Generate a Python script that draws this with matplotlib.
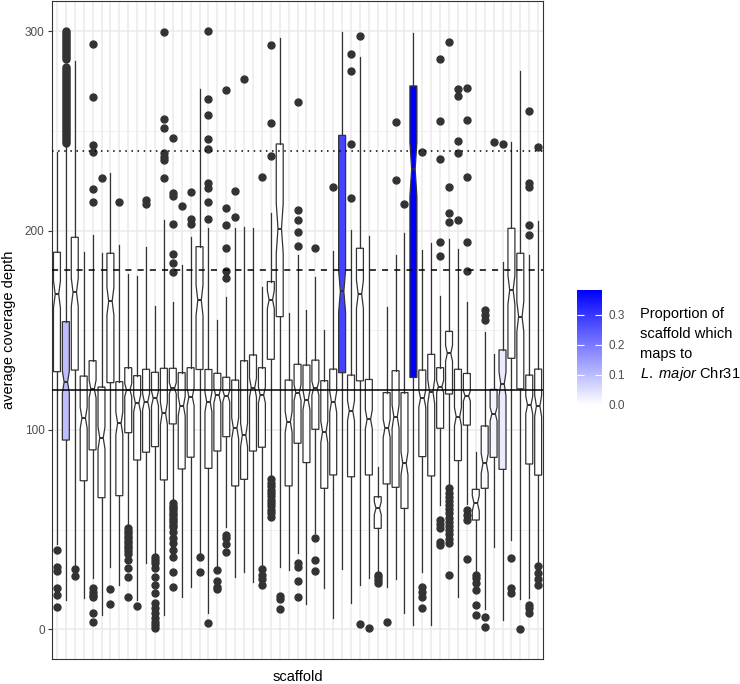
import numpy as np
import matplotlib
matplotlib.use('Agg')
import matplotlib.pyplot as plt
from matplotlib.colors import LinearSegmentedColormap, Normalize
from matplotlib.cm import ScalarMappable

plt.rcParams['font.family'] = ['Liberation Sans', 'DejaVu Sans']
plt.rcParams['mathtext.fontset'] = 'custom'
plt.rcParams['mathtext.it'] = 'Liberation Sans:italic'
plt.rcParams['mathtext.rm'] = 'Liberation Sans'

# box statistics per scaffold
q3s = [189.1, 154.3, 196.6, 127.0, 134.7, 121.5, 188.6, 124.2, 131.2, 127.2,
       130.4, 128.9, 130.9, 130.9, 128.7, 131.2, 191.9, 130.3, 128.4, 126.4,
       125.0, 134.7, 137.6, 131.2, 174.4, 243.4, 125.0, 132.9, 132.5, 135.0,
       124.7, 130.5, 247.7, 127.5, 191.1, 125.3, 66.5, 118.7, 129.7, 118.7,
       272.5, 130.0, 137.9, 131.2, 149.4, 130.4, 128.3, 70.2, 102.0, 120.3,
       140.1, 201.1, 188.6, 127.5, 130.5]
medians = [168.0, 124.0, 169.0, 106.0, 120.5, 96.0, 164.5, 103.3, 120.0, 113.3,
           114.1, 115.8, 108.3, 120.9, 112.0, 116.6, 165.0, 114.0, 117.3, 117.0,
           100.8, 97.4, 121.2, 117.5, 165.3, 201.0, 104.0, 118.7, 115.0, 120.9,
           99.0, 114.1, 169.5, 109.6, 168.0, 105.3, 60.7, 100.8, 106.6, 83.2,
           230.7, 115.8, 119.2, 121.7, 138.4, 106.6, 117.0, 63.2, 83.2, 108.0,
           123.0, 170.2, 156.8, 112.5, 112.0]
q1s = [129.2, 94.9, 130.0, 74.5, 90.0, 66.0, 123.7, 67.0, 98.6, 84.9,
       88.8, 91.6, 74.9, 103.0, 80.4, 86.3, 130.3, 80.7, 89.4, 96.6,
       71.9, 75.2, 89.4, 91.3, 135.4, 156.8, 71.9, 93.3, 83.6, 100.3,
       70.7, 77.4, 128.7, 76.5, 124.6, 77.4, 50.6, 72.9, 71.2, 60.6,
       126.3, 86.6, 76.9, 100.8, 118.0, 84.6, 102.4, 54.8, 70.7, 86.2,
       80.2, 135.9, 120.6, 82.9, 77.3]
whisker_hi = [239.5, 242.0, 285.0, 189.4, 197.5, 188.6, 229.0, 192.7, 178.2, 177.2,
              191.9, 162.1, 205.3, 164.3, 182.7, 196.6, 270.8, 201.1, 155.1, 166.8,
              201.1, 201.9, 201.1, 171.8, 208.6, 296.4, 158.5, 187.8, 160.1, 176.8,
              150.1, 189.9, 299.4, 200.3, 287.2, 197.2, 81.5, 161.5, 187.7, 198.6,
              298.9, 190.2, 193.6, 167.2, 195.6, 190.6, 164.3, 89.0, 149.3, 138.3,
              184.4, 244.6, 280.0, 187.7, 205.0]
whisker_lo = [43.0, 14.7, 32.0, 15.5, 25.6, 7.2, 31.1, 22.2, 51.5, 14.7,
              33.1, 38.1, 7.2, 64.0, 16.3, 21.4, 38.0, 8.0, 31.4, 51.5,
              26.4, 28.6, 23.9, 32.2, 75.7, 31.4, 29.7, 38.1, 12.5, 48.1,
              20.8, 5.7, 30.0, 13.3, 22.0, 25.5, 28.5, 21.4, 25.0, 8.0,
              2.1, 28.9, 2.0, 62.3, 71.5, 16.4, 63.0, 28.0, 10.0, 41.4,
              4.6, 44.8, 15.0, 15.5, 33.0]
n_windows = [200, 290, 220, 250, 250, 250, 220, 250, 250, 250,
             250, 250, 250, 250, 250, 250, 160, 250, 250, 250,
             250, 250, 250, 250, 180, 120, 250, 250, 250, 250,
             250, 250, 320, 250, 220, 250, 60, 250, 250, 250,
             300, 250, 250, 250, 150, 250, 250, 40, 100, 250,
             250, 200, 200, 250, 250]
proportion = [0.0, 0.1, 0.0, 0.0, 0.0, 0.0, 0.0, 0.0, 0.0, 0.0,
              0.0, 0.0, 0.0, 0.0, 0.0, 0.0, 0.0, 0.0, 0.0, 0.0,
              0.0, 0.0, 0.0, 0.0, 0.0, 0.0, 0.0, 0.0, 0.0, 0.0,
              0.0, 0.0, 0.28, 0.0, 0.0, 0.0, 0.0, 0.0, 0.0, 0.0,
              0.383, 0.0, 0.0, 0.0, 0.0, 0.0, 0.0, 0.0, 0.01, 0.015,
              0.03, 0.0, 0.0, 0.0, 0.0]
outliers = [
    [39.8, 31.4, 29.4, 20.9, 17.2, 11.3],
    [300, 299, 298, 297, 296, 295, 294, 293, 292, 291, 290, 289, 288, 287, 286,
     282, 281, 280, 279, 278, 277, 276, 275, 274, 273, 272, 271, 270, 269, 268,
     267, 266, 265, 264, 263, 262, 261, 260, 259, 258, 257, 256, 255, 254, 253,
     252, 251, 250, 249, 248, 247, 246, 245, 244],
    [30.1, 26.7],
    [],
    [293.5, 267.1, 242.9, 239.2, 220.6, 214.1, 20.6, 18.9, 17.2, 16.0, 8.3, 3.8],
    [226.2],
    [20.2, 12.7],
    [214.1],
    [50.6, 49.5, 48.3, 47.0, 45.8, 44.5, 43.2, 42.0, 40.8, 39.5, 38.0, 34.7, 30.6, 26.4, 16.3],
    [11.8],
    [215.3, 213.3],
    [36.4, 34.7, 33.1, 30.6, 26.4, 22.2, 18.0, 13.0, 10.5, 8.0, 5.5, 3.8, 2.1, 0.5],
    [299.7, 255.9, 251.2, 238.7, 237.0, 235.4, 226.2],
    [246.6, 219.0, 217.3, 203.1, 188.1, 183.5, 179.4,
     63.2, 62.0, 60.8, 59.6, 58.4, 57.2, 56.0, 54.8, 53.6, 52.4, 51.4,
     48.9, 45.6, 43.1, 39.8, 36.4, 28.9, 21.4],
    [212.5],
    [219.1, 205.8, 203.3],
    [36.1, 28.6],
    [300.1, 266.0, 257.9, 245.7, 240.9, 224.0, 221.2, 214.5, 205.6, 3.3],
    [29.7, 24.4, 21.4, 20.1],
    [270.5, 211.5, 202.8, 191.4, 179.9, 176.0, 47.3, 45.6, 42.8, 38.9],
    [219.8, 206.6],
    [275.8],
    [],
    [227.0, 30.1, 27.2, 25.1, 22.2],
    [293.0, 254.1, 237.4, 75.2, 73.5, 71.8, 70.1, 68.4, 66.7, 65.0, 63.3, 61.6, 59.9, 58.2, 56.5],
    [16.7, 15.0, 10.2],
    [],
    [264.6, 210.3, 205.3, 199.1, 192.2, 33.4, 31.4, 24.2, 16.3],
    [],
    [191.4, 45.6, 34.8, 29.4],
    [],
    [222.0],
    [],
    [288.5, 280.0, 243.4, 216.5],
    [297.5, 2.6],
    [0.5],
    [27.2, 26.0, 24.5, 23.0],
    [3.8],
    [254.6, 225.2],
    [213.3],
    [],
    [239.5, 21.4, 18.9, 16.4, 10.5],
    [],
    [285.8, 254.9, 235.7, 194.4, 187.2, 54.8, 52.8, 50.6, 43.9, 42.3],
    [294.4, 222.0, 208.6, 204.1, 70.7, 68.6, 66.5, 64.4, 62.3, 60.2, 58.1, 56.0,
     53.9, 51.8, 49.7, 47.6, 45.5, 43.1, 27.2],
    [270.9, 267.3, 244.7, 238.7, 205.1],
    [271.3, 255.3, 227.0, 194.2, 179.8, 59.8, 57.5, 54.8, 35.1],
    [27.2, 25.6, 23.1, 19.7, 12.2, 7.2],
    [160.1, 157.6, 155.1, 6.3, 1.3],
    [244.2],
    [243.4],
    [35.6, 20.6, 18.1],
    [0.2],
    [260.1, 224.0, 222.0, 202.8, 197.6, 12.2, 10.5, 8.0],
    [242.0, 31.7, 28.2, 25.2, 22.2],
]
ref_lines = [120, 180, 240]
ref_styles = ['-', (0, (4, 4)), (0, (1, 3))]

fig = plt.figure(figsize=(7.4, 6.84), dpi=100)
ax = fig.add_axes([51.6 / 740, 1 - 659.2 / 684, (543.5 - 51.6) / 740, (659.2 - 1.2) / 684])

n = len(medians)
stats = []
for i in range(n):
    notch = 1.58 * (q3s[i] - q1s[i]) / np.sqrt(n_windows[i])
    stats.append(dict(med=medians[i], q1=q1s[i], q3=q3s[i],
                      whislo=whisker_lo[i], whishi=whisker_hi[i],
                      fliers=outliers[i], cilo=medians[i] - notch,
                      cihi=medians[i] + notch))

edge = '#333333'
bp = ax.bxp(stats, positions=range(n), widths=0.78, shownotches=True,
            showcaps=False, patch_artist=True, manage_ticks=False,
            boxprops=dict(edgecolor=edge, linewidth=0.9),
            whiskerprops=dict(color=edge, linewidth=0.9),
            medianprops=dict(color=edge, linewidth=1.4),
            flierprops=dict(marker='o', markerfacecolor=edge, markeredgecolor=edge,
                            markersize=5, linestyle='none'))

cmap = LinearSegmentedColormap.from_list('wb', ['white', 'blue'])
norm = Normalize(vmin=0, vmax=max(proportion))
for patch, p in zip(bp['boxes'], proportion):
    patch.set_facecolor(cmap(norm(p)))

for y, ls in zip(ref_lines, ref_styles):
    ax.axhline(y, color='black', linewidth=1.1, linestyle=ls, zorder=4)

ax.set_xlim(-0.6, n - 0.4)
ax.set_ylim(-15, 315)
ax.set_xticks(range(n))
ax.set_xticklabels([])
ax.tick_params(axis='x', length=0)
ax.set_yticks([0, 100, 200, 300])
ax.set_yticks([50, 150, 250], minor=True)
ax.tick_params(axis='y', which='major', length=3, width=0.8, color=edge,
               labelsize=8.5, labelcolor='#4d4d4d', pad=2)
ax.tick_params(axis='y', which='minor', length=0)
ax.grid(True, which='major', color='#ebebeb', linewidth=1.1, zorder=0)
ax.grid(True, which='minor', axis='y', color='#ebebeb', linewidth=0.5, zorder=0)
ax.set_axisbelow(True)
for s in ax.spines.values():
    s.set_color(edge)
    s.set_linewidth(0.8)

ax.set_ylabel('average coverage depth', fontsize=10.5, labelpad=6)
fig.text((51.6 + 543.5) / 2 / 740, 1 - 677 / 684, 'scaffold', fontsize=10.5,
         ha='center', va='center')

# colour bar legend
cax = fig.add_axes([577 / 740, 1 - 405 / 684, 25 / 740, 115 / 684])
cb = fig.colorbar(ScalarMappable(norm=norm, cmap=cmap), cax=cax)
cb.outline.set_visible(False)
cb.set_ticks([0.0, 0.1, 0.2, 0.3])
cb.set_ticklabels(['0.0', '0.1', '0.2', '0.3'])
cax.yaxis.set_ticks_position('both')
cax.tick_params(direction='in', length=5, width=0.8, color='white',
                labelsize=8.5, labelcolor='#4d4d4d', pad=5, left=True, right=True)

title_lines = ['Proportion of', 'scaffold which', 'maps to', r'$\mathit{L.\ major}$ Chr31']
baselines = [318.3, 338.3, 358.3, 378.3]
for txt, yb in zip(title_lines, baselines):
    fig.text(640 / 740, 1 - yb / 684, txt, fontsize=10.5, ha='left', va='baseline')

fig.savefig('out.png', dpi=100)
